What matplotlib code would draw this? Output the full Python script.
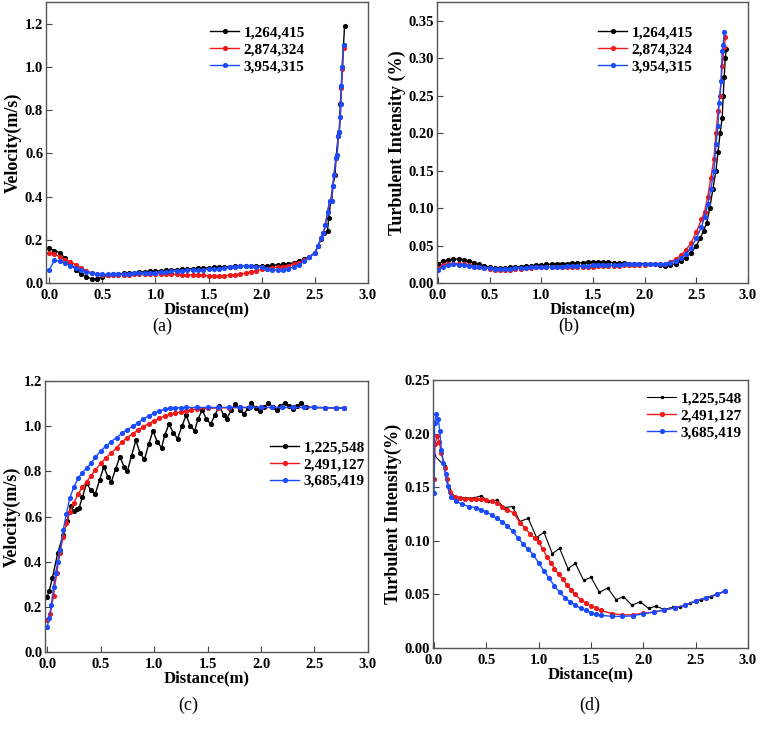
import numpy as np
import matplotlib
matplotlib.use("Agg")
import matplotlib.pyplot as plt
from matplotlib.ticker import FormatStrFormatter

plt.rcParams['font.family'] = ['Liberation Serif', 'DejaVu Serif']
plt.rcParams['font.weight'] = 'bold'
plt.rcParams['axes.labelweight'] = 'bold'

c_black = '#000000'
c_red = '#f01818'
c_blue = '#1a4cff'

# ---------------- (a) velocity ----------------
a_x_base = [0.00, 0.05, 0.10, 0.15, 0.20, 0.25, 0.30, 0.35, 0.40, 0.45,
            0.50, 0.55, 0.60, 0.65, 0.70, 0.75, 0.80, 0.85, 0.90, 0.95,
            1.00, 1.05, 1.10, 1.15, 1.20, 1.25, 1.30, 1.35, 1.40, 1.45,
            1.50, 1.55, 1.60, 1.65, 1.70, 1.75, 1.80, 1.85, 1.90, 1.95,
            2.00, 2.05, 2.10, 2.15, 2.20, 2.25, 2.30, 2.35, 2.40, 2.45]
a_black_base = [0.160, 0.150, 0.140, 0.115, 0.090, 0.062, 0.042, 0.027, 0.020, 0.020,
                0.028, 0.036, 0.040, 0.042, 0.044, 0.046, 0.048, 0.050, 0.052, 0.054,
                0.055, 0.057, 0.058, 0.060, 0.062, 0.063, 0.065, 0.066, 0.068, 0.069,
                0.070, 0.072, 0.073, 0.075, 0.076, 0.077, 0.078, 0.078, 0.078, 0.078,
                0.079, 0.080, 0.082, 0.084, 0.086, 0.089, 0.093, 0.100, 0.110, 0.122]
a_red_base = [0.140, 0.135, 0.120, 0.108, 0.098, 0.085, 0.070, 0.057, 0.047, 0.041,
              0.038, 0.037, 0.037, 0.038, 0.038, 0.039, 0.040, 0.040, 0.041, 0.041,
              0.042, 0.042, 0.042, 0.041, 0.040, 0.039, 0.038, 0.037, 0.036, 0.035,
              0.034, 0.033, 0.033, 0.034, 0.036, 0.039, 0.042, 0.046, 0.051, 0.057,
              0.063, 0.067, 0.070, 0.073, 0.076, 0.080, 0.086, 0.094, 0.105, 0.120]
a_blue_base = [0.060, 0.105, 0.100, 0.092, 0.080, 0.068, 0.058, 0.050, 0.045, 0.042,
               0.040, 0.040, 0.040, 0.041, 0.042, 0.043, 0.044, 0.045, 0.046, 0.047,
               0.048, 0.050, 0.052, 0.054, 0.055, 0.057, 0.058, 0.060, 0.061, 0.062,
               0.063, 0.065, 0.067, 0.069, 0.072, 0.075, 0.077, 0.078, 0.077, 0.075,
               0.072, 0.066, 0.061, 0.060, 0.061, 0.066, 0.074, 0.085, 0.100, 0.118]
a_black_end_x = [2.50, 2.53, 2.56, 2.59, 2.62, 2.63, 2.65, 2.67, 2.69, 2.70, 2.72, 2.73,
                 2.74, 2.75, 2.76, 2.77, 2.78]
a_black_end_y = [0.140, 0.170, 0.205, 0.230, 0.240, 0.300, 0.380, 0.450, 0.500, 0.580, 0.680, 0.700,
                 0.830, 0.910, 1.000, 1.100, 1.190]
a_red_end_x = [2.50, 2.53, 2.56, 2.58, 2.60, 2.62, 2.64, 2.66, 2.67, 2.68, 2.70, 2.71,
               2.72, 2.73, 2.74, 2.745, 2.75, 2.76, 2.77]
a_red_end_y = [0.140, 0.170, 0.210, 0.230, 0.270, 0.330, 0.380, 0.380, 0.450, 0.500, 0.580, 0.590,
               0.680, 0.700, 0.770, 0.830, 0.900, 0.990, 1.085]
a_blue_end_x = [2.50, 2.53, 2.56, 2.58, 2.60, 2.62, 2.64, 2.66, 2.67, 2.68, 2.70, 2.71,
                2.72, 2.73, 2.74, 2.745, 2.75, 2.755, 2.77]
a_blue_end_y = [0.140, 0.170, 0.210, 0.230, 0.270, 0.330, 0.380, 0.380, 0.450, 0.500, 0.580, 0.590,
                0.680, 0.700, 0.770, 0.830, 0.910, 1.000, 1.100]

# ---------------- (b) turbulent intensity ----------------
b_x_base = a_x_base[:46]
b_black_base = [0.025, 0.029, 0.031, 0.032, 0.032, 0.031, 0.029, 0.027, 0.025, 0.023,
                0.021, 0.020, 0.020, 0.020, 0.021, 0.021, 0.022, 0.023, 0.023, 0.024,
                0.024, 0.025, 0.025, 0.026, 0.026, 0.026, 0.027, 0.027, 0.027, 0.028,
                0.028, 0.028, 0.028, 0.028, 0.027, 0.027, 0.027, 0.026, 0.026, 0.026,
                0.026, 0.025, 0.025, 0.024, 0.023, 0.024]
b_red_base = [0.020, 0.024, 0.026, 0.026, 0.026, 0.025, 0.024, 0.022, 0.021, 0.020,
              0.019, 0.018, 0.018, 0.018, 0.018, 0.019, 0.019, 0.020, 0.020, 0.021,
              0.021, 0.021, 0.022, 0.022, 0.022, 0.022, 0.022, 0.022, 0.022, 0.022,
              0.022, 0.023, 0.023, 0.023, 0.023, 0.023, 0.024, 0.024, 0.024, 0.024,
              0.024, 0.025, 0.025, 0.025, 0.026, 0.028]
b_blue_base = [0.018, 0.022, 0.024, 0.025, 0.024, 0.024, 0.023, 0.022, 0.021, 0.020,
               0.020, 0.019, 0.019, 0.019, 0.019, 0.020, 0.020, 0.020, 0.021, 0.021,
               0.021, 0.022, 0.022, 0.022, 0.022, 0.023, 0.023, 0.023, 0.023, 0.023,
               0.024, 0.024, 0.024, 0.024, 0.024, 0.024, 0.025, 0.025, 0.025, 0.025,
               0.025, 0.025, 0.025, 0.025, 0.026, 0.027]
b_black_end_x = [2.30, 2.35, 2.40, 2.45, 2.50, 2.54, 2.57, 2.60, 2.63, 2.66, 2.69, 2.71,
                 2.73, 2.75, 2.76, 2.77, 2.78, 2.79]
b_black_end_y = [0.026, 0.030, 0.034, 0.040, 0.050, 0.060, 0.070, 0.080, 0.100, 0.125, 0.150, 0.175,
                 0.200, 0.220, 0.250, 0.275, 0.300, 0.312]
b_red_end_x = [2.30, 2.35, 2.40, 2.45, 2.50, 2.55, 2.58, 2.61, 2.64, 2.67, 2.69, 2.71,
               2.73, 2.75, 2.77, 2.78]
b_red_end_y = [0.032, 0.037, 0.044, 0.054, 0.068, 0.085, 0.095, 0.115, 0.140, 0.165, 0.200, 0.230,
               0.250, 0.290, 0.315, 0.328]
b_blue_end_x = [2.30, 2.35, 2.40, 2.45, 2.50, 2.55, 2.58, 2.61, 2.64, 2.67, 2.69, 2.71,
                2.72, 2.74, 2.75, 2.76, 2.77]
b_blue_end_y = [0.029, 0.033, 0.039, 0.047, 0.060, 0.075, 0.088, 0.105, 0.125, 0.150, 0.185, 0.210,
                0.240, 0.270, 0.310, 0.318, 0.335]

# ---------------- (c) velocity ----------------
c_black_x = [0.00, 0.02, 0.05, 0.10, 0.15, 0.19, 0.22, 0.25, 0.28, 0.30, 0.33, 0.37,
             0.41, 0.45, 0.49, 0.53, 0.57, 0.60, 0.64, 0.68, 0.72, 0.75, 0.79, 0.83,
             0.87, 0.91, 0.95, 0.99, 1.03, 1.07, 1.10, 1.14, 1.18, 1.22, 1.26, 1.30,
             1.34, 1.38, 1.41, 1.45, 1.49, 1.53, 1.57, 1.61, 1.65, 1.68, 1.72, 1.76,
             1.80, 1.84, 1.88, 1.91, 1.95, 1.99, 2.03, 2.07, 2.11, 2.15, 2.18, 2.22,
             2.26, 2.30, 2.34, 2.37, 2.42, 2.50, 2.60, 2.70, 2.78]
c_black_y = [0.245, 0.270, 0.330, 0.440, 0.520, 0.580, 0.645, 0.625, 0.635, 0.640, 0.686, 0.748,
             0.716, 0.700, 0.760, 0.820, 0.775, 0.753, 0.810, 0.865, 0.820, 0.800, 0.870, 0.937,
             0.880, 0.853, 0.920, 0.980, 0.930, 0.905, 0.960, 1.010, 0.970, 0.945, 1.000, 1.048,
             1.000, 0.980, 1.030, 1.073, 1.030, 1.010, 1.050, 1.090, 1.050, 1.033, 1.070, 1.100,
             1.070, 1.055, 1.080, 1.103, 1.080, 1.067, 1.085, 1.104, 1.085, 1.070, 1.088, 1.104,
             1.088, 1.075, 1.090, 1.104, 1.085, 1.083, 1.082, 1.081, 1.080]
c_red_x = [0.00, 0.03, 0.06, 0.09, 0.12, 0.15, 0.18, 0.21, 0.25, 0.29, 0.33, 0.37,
           0.41, 0.45, 0.50, 0.55, 0.60, 0.65, 0.70, 0.75, 0.80, 0.85, 0.90, 0.95,
           1.00, 1.05, 1.10, 1.15, 1.20, 1.25, 1.30, 1.35, 1.40, 1.50, 1.60, 1.70,
           1.80, 1.90, 2.00, 2.10, 2.20, 2.30, 2.40, 2.50, 2.60, 2.70, 2.78]
c_red_y = [0.140, 0.170, 0.250, 0.350, 0.440, 0.510, 0.570, 0.620, 0.660, 0.700, 0.730, 0.755,
           0.780, 0.805, 0.835, 0.860, 0.882, 0.905, 0.930, 0.950, 0.967, 0.983, 0.998, 1.012,
           1.024, 1.035, 1.045, 1.053, 1.059, 1.064, 1.069, 1.073, 1.076, 1.079, 1.081, 1.082,
           1.083, 1.083, 1.083, 1.083, 1.083, 1.083, 1.083, 1.083, 1.082, 1.081, 1.080]
c_blue_x = [0.00, 0.02, 0.04, 0.06, 0.08, 0.10, 0.12, 0.15, 0.18, 0.21, 0.25, 0.29,
            0.33, 0.37, 0.41, 0.45, 0.50, 0.55, 0.60, 0.65, 0.70, 0.75, 0.80, 0.85,
            0.90, 0.95, 1.00, 1.05, 1.10, 1.15, 1.20, 1.25, 1.30, 1.40, 1.50, 1.60,
            1.70, 1.80, 1.90, 2.00, 2.10, 2.20, 2.30, 2.40, 2.50, 2.60, 2.70, 2.78]
c_blue_y = [0.110, 0.150, 0.210, 0.290, 0.350, 0.400, 0.450, 0.540, 0.610, 0.680, 0.730, 0.770,
            0.795, 0.815, 0.835, 0.862, 0.890, 0.912, 0.932, 0.950, 0.968, 0.985, 1.000, 1.015,
            1.033, 1.045, 1.058, 1.068, 1.075, 1.079, 1.081, 1.082, 1.083, 1.083, 1.083, 1.083,
            1.083, 1.083, 1.083, 1.083, 1.083, 1.083, 1.083, 1.083, 1.083, 1.082, 1.081, 1.080]

# ---------------- (d) turbulent intensity ----------------
d_black_x = [0.00, 0.10, 0.14, 0.20, 0.30, 0.38, 0.45, 0.52, 0.60, 0.67, 0.75, 0.82,
             0.90, 0.98, 1.05, 1.13, 1.20, 1.28, 1.35, 1.43, 1.50, 1.58, 1.66, 1.74,
             1.81, 1.89, 1.97, 2.05, 2.12, 2.20, 2.28, 2.35, 2.45, 2.55, 2.65, 2.78]
d_black_y = [0.180, 0.170, 0.148, 0.141, 0.140, 0.140, 0.142, 0.137, 0.138, 0.131, 0.132, 0.118,
             0.121, 0.103, 0.108, 0.088, 0.093, 0.074, 0.079, 0.063, 0.066, 0.052, 0.056, 0.045,
             0.048, 0.040, 0.043, 0.037, 0.039, 0.036, 0.038, 0.038, 0.042, 0.045, 0.048, 0.053]
d_red_x = [0.00, 0.01, 0.03, 0.05, 0.07, 0.10, 0.12, 0.15, 0.20, 0.25, 0.30, 0.35,
           0.40, 0.45, 0.50, 0.55, 0.60, 0.65, 0.70, 0.76, 0.82, 0.87, 0.92, 0.96,
           1.00, 1.04, 1.08, 1.12, 1.15, 1.19, 1.23, 1.27, 1.31, 1.35, 1.40, 1.45,
           1.50, 1.55, 1.60, 1.70, 1.80, 1.90, 2.00, 2.10, 2.20, 2.30, 2.40, 2.50,
           2.60, 2.70, 2.78]
d_red_y = [0.158, 0.190, 0.198, 0.192, 0.182, 0.168, 0.158, 0.146, 0.141, 0.140, 0.139, 0.139,
           0.139, 0.139, 0.138, 0.137, 0.135, 0.132, 0.129, 0.126, 0.117, 0.112, 0.106, 0.103,
           0.099, 0.092, 0.085, 0.079, 0.074, 0.069, 0.064, 0.059, 0.054, 0.050, 0.045, 0.042,
           0.039, 0.037, 0.035, 0.032, 0.031, 0.031, 0.0325, 0.0335, 0.0355, 0.0375, 0.040, 0.044,
           0.047, 0.050, 0.053]
d_blue_x = [0.00, 0.005, 0.02, 0.04, 0.055, 0.07, 0.09, 0.11, 0.13, 0.16, 0.21, 0.27,
            0.33, 0.40, 0.45, 0.50, 0.55, 0.60, 0.65, 0.70, 0.75, 0.80, 0.85, 0.90,
            0.95, 1.00, 1.05, 1.10, 1.15, 1.20, 1.25, 1.30, 1.35, 1.40, 1.45, 1.50,
            1.55, 1.60, 1.70, 1.80, 1.90, 2.00, 2.10, 2.20, 2.30, 2.40, 2.50, 2.60,
            2.70, 2.78]
d_blue_y = [0.145, 0.210, 0.218, 0.214, 0.202, 0.185, 0.173, 0.162, 0.151, 0.141, 0.137, 0.134,
            0.132, 0.131, 0.129, 0.127, 0.124, 0.121, 0.118, 0.114, 0.109, 0.103, 0.097, 0.092,
            0.087, 0.079, 0.072, 0.065, 0.058, 0.052, 0.047, 0.043, 0.040, 0.037, 0.035, 0.033,
            0.0315, 0.0305, 0.0295, 0.0295, 0.030, 0.032, 0.0335, 0.0355, 0.0375, 0.040, 0.044, 0.047,
            0.050, 0.053]

labels_top = ['1,264,415', '2,874,324', '3,954,315']
labels_bot = ['1,225,548', '2,491,127', '3,685,419']

fig = plt.figure(figsize=(7.61, 7.29), dpi=100)
ax_a = fig.add_axes([0.0604, 0.6118, 0.4231, 0.3855])
ax_b = fig.add_axes([0.5742, 0.6118, 0.4087, 0.3855])
ax_c = fig.add_axes([0.0591, 0.1056, 0.4244, 0.3717])
ax_d = fig.add_axes([0.5690, 0.1111, 0.4139, 0.3676])


def style(ax, xlim, ylim, yticks, yfmt, ylabel):
    ax.set_xlim(*xlim)
    ax.set_ylim(*ylim)
    ax.set_xticks([0.0, 0.5, 1.0, 1.5, 2.0, 2.5, 3.0])
    ax.set_yticks(yticks)
    ax.xaxis.set_major_formatter(FormatStrFormatter('%.1f'))
    ax.yaxis.set_major_formatter(FormatStrFormatter(yfmt))
    ax.tick_params(direction='in', length=4, width=0.8, labelsize=10.5, color='#444444')
    ax.tick_params(axis='x', pad=4)
    ax.tick_params(axis='y', pad=2)
    for s in ax.spines.values():
        s.set_color('#555555')
        s.set_linewidth(1.0)
    ax.set_xlabel('Distance(m)', fontsize=12, labelpad=0)
    ax.set_ylabel(ylabel, fontsize=13, labelpad=2)


def leg(ax, anchor):
    ax.legend(loc='upper left', bbox_to_anchor=anchor, frameon=False,
              fontsize=11, handlelength=1.9, handletextpad=0.3,
              labelspacing=0.2, borderpad=0, borderaxespad=0)


kw = dict(lw=1.0, marker='o', markersize=2.7)

# (a)
ax_a.plot(a_x_base + a_black_end_x, a_black_base + a_black_end_y, color=c_black, label=labels_top[0], **kw)
ax_a.plot(a_x_base + a_red_end_x, a_red_base + a_red_end_y, color=c_red, label=labels_top[1], **kw)
ax_a.plot(a_x_base + a_blue_end_x, a_blue_base + a_blue_end_y, color=c_blue, label=labels_top[2], **kw)
style(ax_a, (-0.03, 3.0), (0, 1.3), [0, 0.2, 0.4, 0.6, 0.8, 1.0, 1.2], '%.1f', 'Velocity(m/s)')
leg(ax_a, (0.51, 0.915))

# (b)
ax_b.plot(b_x_base + b_black_end_x, b_black_base + b_black_end_y, color=c_black, label=labels_top[0], **kw)
ax_b.plot(b_x_base + b_red_end_x, b_red_base + b_red_end_y, color=c_red, label=labels_top[1], **kw)
ax_b.plot(b_x_base + b_blue_end_x, b_blue_base + b_blue_end_y, color=c_blue, label=labels_top[2], **kw)
style(ax_b, (-0.01, 3.0), (0, 0.375), [0, 0.05, 0.10, 0.15, 0.20, 0.25, 0.30, 0.35], '%.2f',
      'Turbulent Intensity (%)')
leg(ax_b, (0.518, 0.915))

# (c)
ax_c.plot(c_black_x, c_black_y, color=c_black, label=labels_bot[0], **kw)
ax_c.plot(c_red_x, c_red_y, color=c_red, label=labels_bot[1], **kw)
ax_c.plot(c_blue_x, c_blue_y, color=c_blue, label=labels_bot[2], **kw)
style(ax_c, (-0.02, 3.0), (0, 1.2), [0, 0.2, 0.4, 0.6, 0.8, 1.0, 1.2], '%.1f', 'Velocity(m/s)')
leg(ax_c, (0.697, 0.78))

# (d)
ax_d.plot(d_black_x, d_black_y, color=c_black, lw=0.8, marker='o', markersize=1.5, label=labels_bot[0])
ax_d.plot(d_red_x, d_red_y, color=c_red, label=labels_bot[1], **kw)
ax_d.plot(d_blue_x, d_blue_y, color=c_blue, label=labels_bot[2], **kw)
style(ax_d, (-0.01, 3.0), (0, 0.25), [0, 0.05, 0.10, 0.15, 0.20, 0.25], '%.2f', 'Turbulent Intensity(%)')
leg(ax_d, (0.68, 0.955))

for t, (x, y) in zip(['(a)', '(b)', '(c)', '(d)'],
                     [(0.213, 0.552), (0.748, 0.552), (0.248, 0.033), (0.775, 0.033)]):
    fig.text(x, y, t, ha='center', va='center', fontsize=13, fontweight='normal')

fig.savefig('out.png', dpi=100)
